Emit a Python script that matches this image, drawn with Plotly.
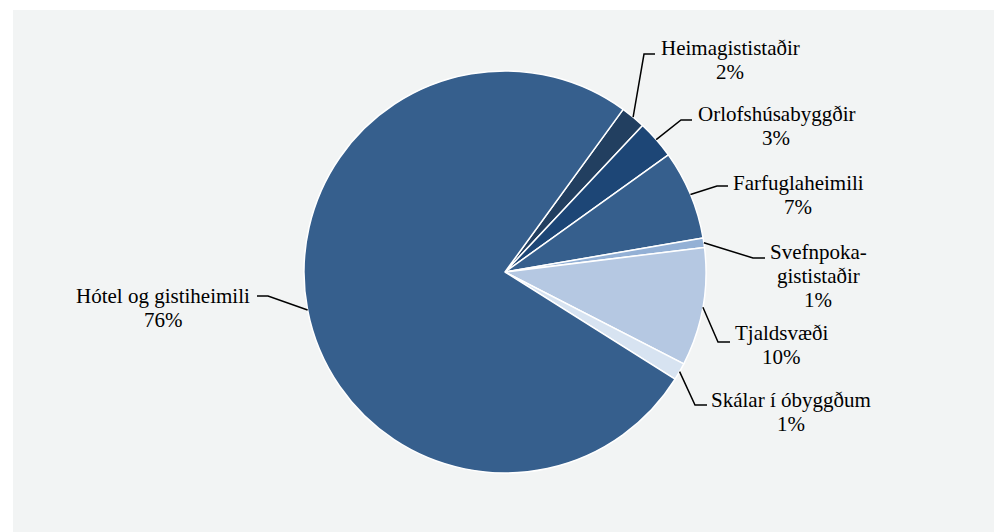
import math
import plotly.graph_objects as go

# ---- data ----
labels = ["Heimagististaðir", "Orlofshúsabyggðir", "Farfuglaheimili",
          "Svefnpoka-gististaðir", "Tjaldsvæði", "Skálar í óbyggðum",
          "Hótel og gistiheimili"]
values = [2.0, 3.1, 7.2, 0.75, 9.5, 1.4, 76.05]
label_lines = [["Heimagististaðir"], ["Orlofshúsabyggðir"], ["Farfuglaheimili"],
               ["Svefnpoka-", "gististaðir"], ["Tjaldsvæði"], ["Skálar í óbyggðum"],
               ["Hótel og gistiheimili"]]
colors = ["#223f60", "#1d4676", "#365f8d", "#93b0d5", "#b5c8e2", "#d7e3f1", "#365f8d"]

# ---- layout / style ----
W, H = 1002, 532
OFF = 8  # page body margin
ROT = 36.0
CX, CY, R = 505.0, 272.0, 201.0
LINE_H = 23.7
# (elbow px, line end px, text centre px) for each label, page pixels
label_layout = [
    ((644, 54), (655, 54), (730, 60)),
    ((681, 120), (692, 120), (776, 126)),
    ((717, 186), (728, 186), (798, 195)),
    ((753, 258), (765, 258), (818, 276)),
    ((718, 342), (730, 342), (781, 345)),
    ((695, 405), (707, 405), (791, 412)),
    ((268, 296), (257, 296), (163, 308)),
]


def px(x):
    return (x - OFF) / W


def py(y):
    return 1 - (y - OFF) / H


fig = go.Figure(go.Pie(
    labels=labels, values=values, sort=False, direction="clockwise",
    rotation=ROT, textinfo="none", hoverinfo="label+percent",
    marker=dict(colors=colors, line=dict(color="white", width=1.5)),
    domain=dict(x=[px(CX - R), px(CX + R)], y=[py(CY + R), py(CY - R)]),
    showlegend=False,
))

shapes = [dict(type="rect", xref="paper", yref="paper", layer="below",
               x0=px(13), x1=1, y0=0, y1=py(10),
               fillcolor="#f2f4f4", line=dict(width=0))]
annotations = []
total = sum(values)
cum = 0.0
for v, lines, (elbow, end, tc) in zip(values, label_lines, label_layout):
    pct = v / total * 100
    mid = math.radians(ROT + (cum + v / 2) / total * 360)
    cum += v
    ax = CX + R * math.sin(mid)
    ay = CY - R * math.cos(mid)
    path = "M {} {} L {} {} L {} {}".format(px(ax), py(ay), px(elbow[0]), py(elbow[1]),
                                             px(end[0]), py(end[1]))
    shapes.append(dict(type="path", xref="paper", yref="paper", path=path,
                       line=dict(color="black", width=1.5)))
    all_lines = lines + ["{}%".format(round(pct))]
    n = len(all_lines)
    for i, t in enumerate(all_lines):
        yy = tc[1] + (i - (n - 1) / 2) * LINE_H
        annotations.append(dict(
            x=px(tc[0]), y=py(yy), xref="paper", yref="paper",
            xanchor="center", yanchor="middle", align="center", showarrow=False,
            text=t,
            font=dict(family="Liberation Serif", size=21, color="#000000"),
        ))

fig.update_layout(
    width=W, height=H, margin=dict(l=0, r=0, t=0, b=0),
    paper_bgcolor="white", plot_bgcolor="white",
    shapes=shapes, annotations=annotations,
)

fig.write_html("out.html")
